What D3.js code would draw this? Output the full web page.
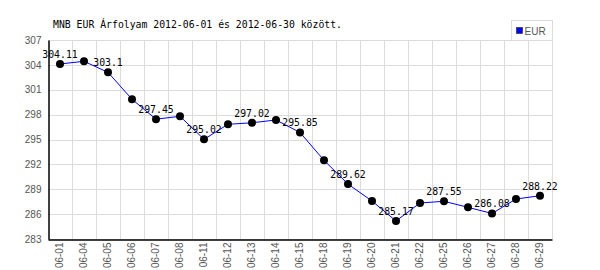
<!DOCTYPE html>
<html>
<head>
<meta charset="utf-8">
<script src="https://cdn.jsdelivr.net/npm/d3@7"></script>
<style>
  body { margin: 0; background: #fff; }
  .tick-label { font-family: "Liberation Sans", sans-serif; font-size: 10px; fill: #555; }
  .mono { font-family: "DejaVu Sans Mono", monospace; font-size: 9.8px; fill: #000; }
</style>
</head>
<body>
<svg id="chart"></svg>
<script>
var margin = {top: 40, right: 48, bottom: 31, left: 48},
    width = 600 - margin.left - margin.right,
    height = 270 - margin.top - margin.bottom;

var days = ["06-01", "06-04", "06-05", "06-06", "06-07", "06-08", "06-11", "06-12", "06-13", "06-14", "06-15",
            "06-18", "06-19", "06-20", "06-21", "06-22", "06-25", "06-26", "06-27", "06-28", "06-29"];
var rates = [304.11, 304.43, 303.1, 299.85, 297.45, 297.8, 295.02, 296.83, 297.02, 297.35, 295.85,
             292.49, 289.62, 287.58, 285.17, 287.34, 287.55, 286.82, 286.08, 287.82, 288.22];
var yTicks = [283, 286, 289, 292, 295, 298, 301, 304, 307];
var seriesName = "EUR";
var title = "MNB EUR Árfolyam 2012-06-01 és 2012-06-30 között.";

var points = days.map(function(d, i) { return {day: d, rate: rates[i], idx: i}; });

var svg = d3.select("#chart")
    .attr("width", 600)
    .attr("height", 270);

var g = svg.append("g")
    .attr("transform", "translate(" + margin.left + "," + margin.top + ")");

var x = d3.scaleBand()
    .domain(days)
    .range([0, width])
    .padding(0);

var y = d3.scaleLinear()
    .domain([283, 307])
    .range([height, 0]);

// grid
g.selectAll(".hgrid")
    .data(yTicks)
    .enter().append("line")
    .attr("x1", 0).attr("x2", width)
    .attr("y1", function(d) { return Math.round(y(d)) + 0.5; })
    .attr("y2", function(d) { return Math.round(y(d)) + 0.5; })
    .attr("stroke", "#dcdcdc");

g.selectAll(".vgrid")
    .data(days.slice(1).concat(["end"]))
    .enter().append("line")
    .attr("x1", function(d, i) { return (i + 1) * x.bandwidth() + 0.5; })
    .attr("x2", function(d, i) { return (i + 1) * x.bandwidth() + 0.5; })
    .attr("y1", 0).attr("y2", height)
    .attr("stroke", "#dcdcdc");

// axes
var yAxis = g.append("g")
    .attr("transform", "translate(0.5,0)")
    .call(d3.axisLeft(y).tickValues(yTicks).tickSize(0).tickPadding(7));
yAxis.select(".domain").attr("stroke", "#000").attr("stroke-width", 1.5);
yAxis.selectAll("text").attr("class", "tick-label").attr("fill", null);

var xAxis = g.append("g")
    .attr("transform", "translate(0," + (height + 0.5) + ")")
    .call(d3.axisBottom(x).tickSize(0).tickPadding(4));
xAxis.select(".domain").attr("stroke", "#000").attr("stroke-width", 1.5);
xAxis.selectAll("text")
    .attr("class", "tick-label")
    .attr("fill", null)
    .attr("transform", "rotate(-90)")
    .attr("text-anchor", "end")
    .attr("x", -3)
    .attr("y", 0)
    .attr("dy", "0.33em");

// line
var line = d3.line()
    .x(function(d) { return x(d.day) + x.bandwidth() / 2; })
    .y(function(d) { return y(d.rate); });

g.append("path")
    .datum(points)
    .attr("fill", "none")
    .attr("stroke", "#0000ff")
    .attr("stroke-width", 1)
    .attr("d", line);

g.selectAll(".dot")
    .data(points)
    .enter().append("circle")
    .attr("cx", function(d) { return x(d.day) + x.bandwidth() / 2; })
    .attr("cy", function(d) { return y(d.rate); })
    .attr("r", 4)
    .attr("fill", "#000");

// value labels on every second point
g.selectAll(".vlabel")
    .data(points.filter(function(d) { return d.idx % 2 == 0; }))
    .enter().append("text")
    .attr("class", "mono")
    .attr("text-anchor", "middle")
    .attr("x", function(d) { return x(d.day) + x.bandwidth() / 2; })
    .attr("y", function(d) { return y(d.rate) - 6; })
    .text(function(d) { return d.rate; });

// title
svg.append("text")
    .attr("class", "mono")
    .attr("x", 53)
    .attr("y", 28)
    .text(title);

// legend
var legend = svg.append("g").attr("transform", "translate(511.5,20.5)");
legend.append("rect")
    .attr("width", 41).attr("height", 20)
    .attr("fill", "#fff").attr("stroke", "#dcdcdc");
legend.append("rect")
    .attr("x", 5).attr("y", 7).attr("width", 6).attr("height", 6)
    .attr("fill", "#0000ff").attr("stroke", "#333").attr("stroke-width", 0.7);
legend.append("text")
    .attr("class", "tick-label")
    .attr("x", 13).attr("y", 14)
    .text(seriesName);
</script>
</body>
</html>
